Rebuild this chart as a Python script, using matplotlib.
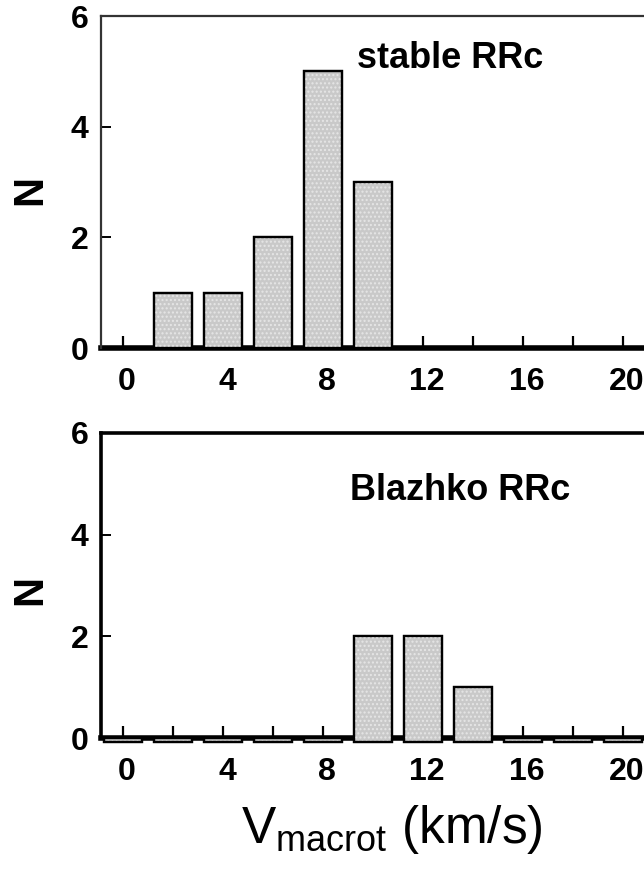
import matplotlib
matplotlib.use("Agg")
import matplotlib.pyplot as plt
import matplotlib.transforms as mtrans
import numpy as np

plt.rcParams['font.family'] = ['Liberation Sans', 'DejaVu Sans']
plt.rcParams['mathtext.default'] = 'regular'

# Data
bin_centers = [0, 2, 4, 6, 8, 10, 12, 14, 16, 18, 20]
stable_counts = [0, 1, 1, 2, 5, 3, 0, 0, 0, 0, 0]
blazhko_counts = [0, 0, 0, 0, 0, 2, 2, 1, 0, 0, 0]
xtick_labels = ['0', '4', '8', '12', '16', '20']
xtick_pos = [0, 4, 8, 12, 16, 20]
ytick_pos = [0, 2, 4, 6]
panel_labels = ['stable RRc', 'Blazhko RRc']

W, H = 644, 876
fig = plt.figure(figsize=(W / 100, H / 100), dpi=100)

def fx(px):
    return px / W

def fy(py):
    return 1 - py / H

# x scale: tick 0 at px 123, 25 px per unit
x0px, upx = 123.0, 25.0
left_px = 101.0
right_px = 650.0
xlim = ((left_px - x0px) / upx, (right_px - x0px) / upx)
left = fx(left_px)
width = fx(right_px) - left
ax1 = fig.add_axes([left, fy(348), width, fy(16) - fy(348)])
ax2 = fig.add_axes([left, fy(738), width, fy(433) - fy(738)])

bw = 1.55
label_shift = mtrans.ScaledTranslation(4 / 100, 0, fig.dpi_scale_trans)
for ax, counts, lab, spcol, splw, tpos, show_zero, off in [
    (ax1, stable_counts, panel_labels[0], '#333333', 1.6, (450, 58), False, 0.0),
    (ax2, blazhko_counts, panel_labels[1], 'black', 2.6, (460, 490), True, 0.07),
]:
    xs = [x for x, c in zip(bin_centers, counts) if (c > 0 or show_zero)]
    cs = np.array([c for c in counts if (c > 0 or show_zero)]) + off
    ax.bar(xs, cs, width=bw, bottom=-off, color='#c9c9c9',
           edgecolor='black', linewidth=1.6, clip_on=False, zorder=3)
    ax.bar(xs, cs, width=bw, bottom=-off, facecolor='none',
           edgecolor='#e6e6e6', hatch='....', linewidth=0, clip_on=False, zorder=3.5)
    ax.bar(xs, cs, width=bw, bottom=-off, facecolor='none',
           edgecolor='black', linewidth=1.6, clip_on=False, zorder=3.6)
    ax.set_xlim(*xlim)
    ax.set_ylim(0, 6)
    ax.set_xticks(xtick_pos)
    ax.set_xticklabels(xtick_labels)
    ax.set_xticks(np.arange(0, 21, 2), minor=True)
    ax.set_yticks(ytick_pos)
    ax.tick_params(axis='x', which='both', direction='in', length=9, width=1.6,
                   pad=14, labelsize=23, color='black')
    ax.tick_params(axis='y', which='both', direction='in', length=7, width=1.4,
                   pad=9, labelsize=23)
    for t in ax.get_xticklabels():
        t.set_fontweight('bold')
        t.set_transform(t.get_transform() + label_shift)
    for t in ax.get_yticklabels():
        t.set_fontweight('bold')
    ax.spines['right'].set_visible(False)
    ax.spines['left'].set_color(spcol)
    ax.spines['top'].set_color(spcol)
    ax.spines['left'].set_linewidth(splw)
    ax.spines['top'].set_linewidth(splw)
    ax.spines['bottom'].set_linewidth(4)
    ax.spines['bottom'].set_color('black')
    ax.spines['bottom'].set_zorder(2)
    fig.text(fx(tpos[0]), fy(tpos[1]), lab, ha='center', va='center',
             fontsize=26, fontweight='bold')

fig.text(fx(30), fy(190), 'N', rotation=90, ha='center', va='center',
         fontsize=30, fontweight='bold')
fig.text(fx(30), fy(590), 'N', rotation=90, ha='center', va='center',
         fontsize=30, fontweight='bold')

fig.text(fx(392), fy(830), '$V_{macrot}$ (km/s)', ha='center', va='center',
         fontsize=37)

fig.savefig('out.png', dpi=100)
